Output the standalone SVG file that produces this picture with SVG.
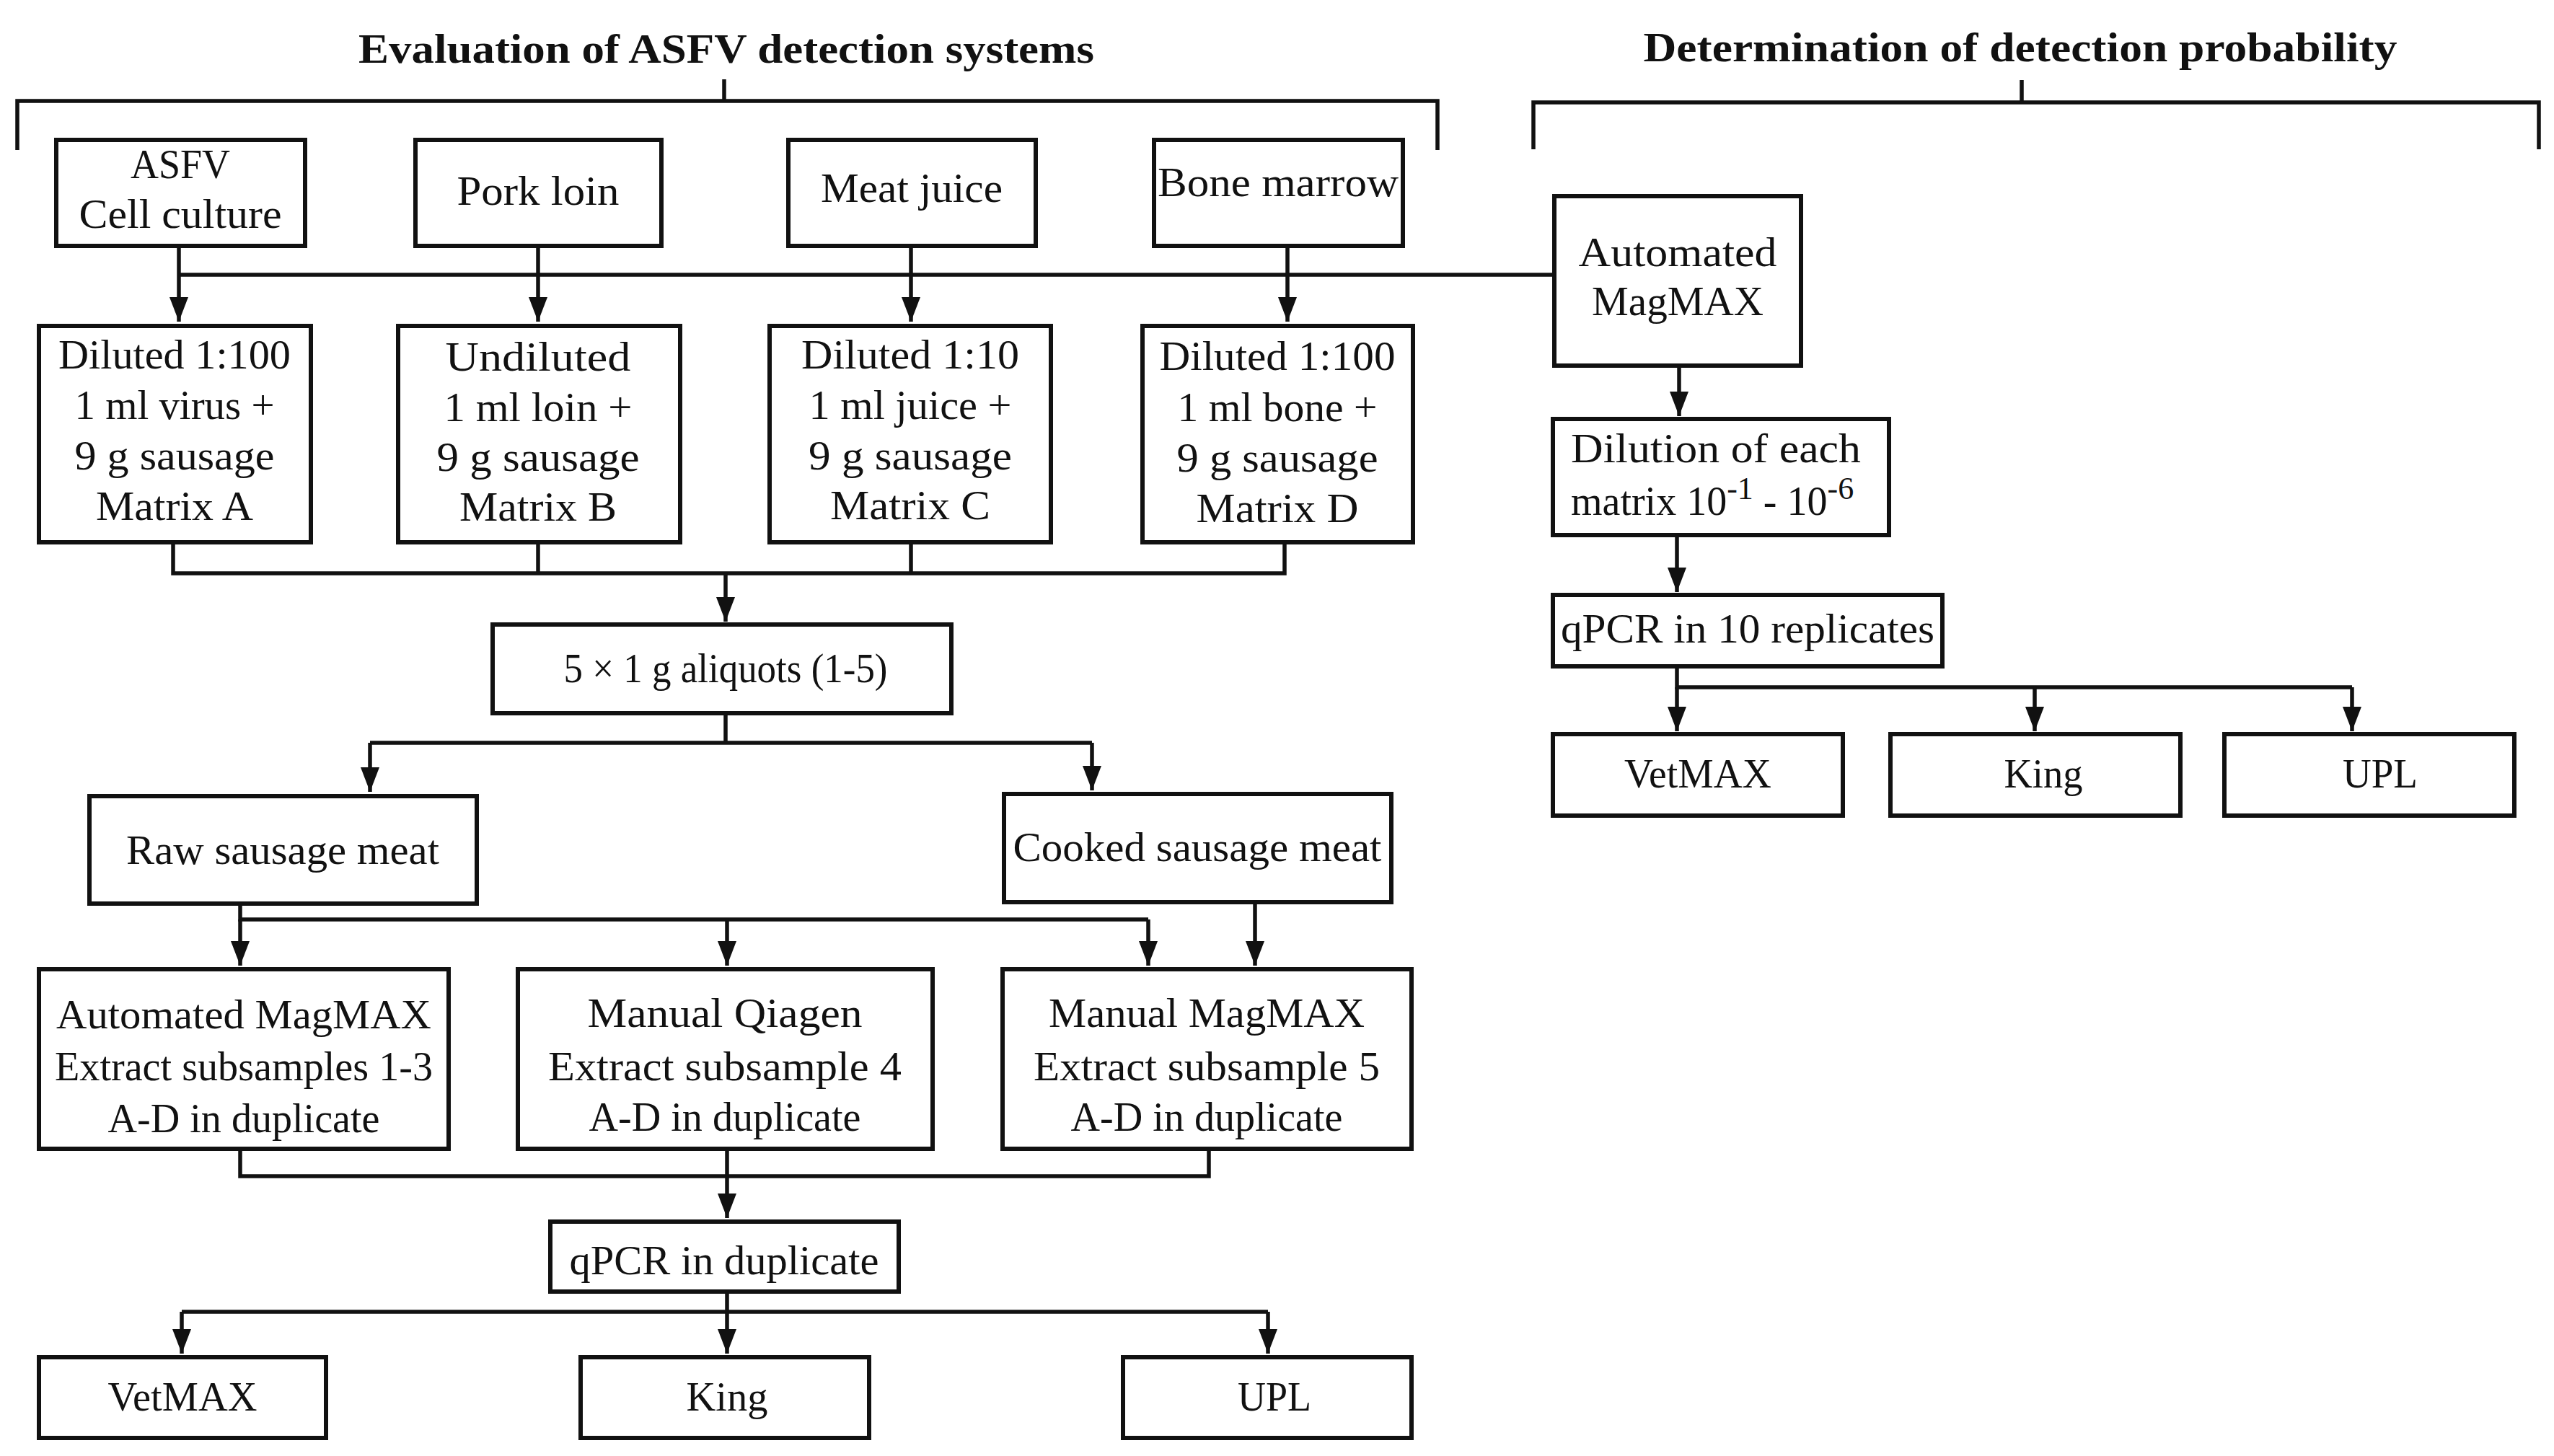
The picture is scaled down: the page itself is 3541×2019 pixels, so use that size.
<svg xmlns="http://www.w3.org/2000/svg" width="3541" height="2019" viewBox="0 0 3541 2019">
<style>
.bg{fill:#fff}
.box{fill:#fff;stroke:#111;stroke-width:6}
.ln{fill:none;stroke:#111;stroke-width:5.5}
.t{font-family:"Liberation Serif","Times New Roman",serif;font-size:56px;fill:#111;text-anchor:middle}
.tl{font-family:"Liberation Serif","Times New Roman",serif;font-size:56px;fill:#111}
.h{font-family:"Liberation Serif","Times New Roman",serif;font-size:58px;font-weight:bold;fill:#111;text-anchor:middle}
</style>
<defs>
<marker id="ah" markerUnits="userSpaceOnUse" markerWidth="36" markerHeight="28" refX="34" refY="13" orient="auto">
<path d="M0,0 L34,13 L0,26 z" fill="#111"/>
</marker>
</defs>
<rect class="bg" x="0" y="0" width="3541" height="2019"/>

<g id="headers">
<text class="h" x="1007" y="87" textLength="1020" lengthAdjust="spacingAndGlyphs">Evaluation of ASFV detection systems</text>
<text class="h" x="2801" y="85" textLength="1045" lengthAdjust="spacingAndGlyphs">Determination of detection probability</text>
<path class="ln" d="M24,208 V140 H1993 V208 M1004,110 V140"/>
<path class="ln" d="M2126,207 V142 H3520 V207 M2803,111 V142"/>
</g>

<g id="connectors">
<path class="ln" d="M248,381 H2155"/>
<path class="ln" d="M248,341 V446" marker-end="url(#ah)"/>
<path class="ln" d="M746,341 V446" marker-end="url(#ah)"/>
<path class="ln" d="M1263,341 V446" marker-end="url(#ah)"/>
<path class="ln" d="M1785,341 V446" marker-end="url(#ah)"/>
<path class="ln" d="M240,752 V795 H1781 V752 M746,752 V795 M1263,752 V795"/>
<path class="ln" d="M1006,795 V862" marker-end="url(#ah)"/>
<path class="ln" d="M1006,989 V1030 M513,1030 H1514"/>
<path class="ln" d="M513,1030 V1098" marker-end="url(#ah)"/>
<path class="ln" d="M1514,1030 V1096" marker-end="url(#ah)"/>
<path class="ln" d="M333,1253 V1275 H1592"/>
<path class="ln" d="M333,1275 V1339" marker-end="url(#ah)"/>
<path class="ln" d="M1008,1275 V1339" marker-end="url(#ah)"/>
<path class="ln" d="M1592,1275 V1339" marker-end="url(#ah)"/>
<path class="ln" d="M1740,1251 V1339" marker-end="url(#ah)"/>
<path class="ln" d="M333,1593 V1631 H1676 V1593"/>
<path class="ln" d="M1008,1593 V1689" marker-end="url(#ah)"/>
<path class="ln" d="M1008,1791 V1819 M252,1819 H1758"/>
<path class="ln" d="M252,1819 V1877" marker-end="url(#ah)"/>
<path class="ln" d="M1008,1819 V1877" marker-end="url(#ah)"/>
<path class="ln" d="M1758,1819 V1877" marker-end="url(#ah)"/>
<path class="ln" d="M2328,507 V577" marker-end="url(#ah)"/>
<path class="ln" d="M2325,742 V821" marker-end="url(#ah)"/>
<path class="ln" d="M2325,924 V953 H3261"/>
<path class="ln" d="M2325,953 V1014" marker-end="url(#ah)"/>
<path class="ln" d="M2821,953 V1014" marker-end="url(#ah)"/>
<path class="ln" d="M3261,953 V1014" marker-end="url(#ah)"/>
</g>

<g id="n_asfv"><rect class="box" x="78" y="194" width="345" height="147"/>
<text class="t" x="250" y="247" textLength="138" lengthAdjust="spacingAndGlyphs">ASFV</text>
<text class="t" x="250" y="316" textLength="281" lengthAdjust="spacingAndGlyphs">Cell culture</text></g>
<g id="n_pork"><rect class="box" x="576" y="194" width="341" height="147"/>
<text class="t" x="746" y="284" textLength="225" lengthAdjust="spacingAndGlyphs">Pork loin</text></g>
<g id="n_juice"><rect class="box" x="1093" y="194" width="343" height="147"/>
<text class="t" x="1264" y="280" textLength="252" lengthAdjust="spacingAndGlyphs">Meat juice</text></g>
<g id="n_bone"><rect class="box" x="1600" y="194" width="345" height="147"/>
<text class="t" x="1772" y="272" textLength="334" lengthAdjust="spacingAndGlyphs">Bone marrow</text></g>
<g id="n_auto_r"><rect class="box" x="2155" y="272" width="342" height="235"/>
<text class="t" x="2326" y="369" textLength="275" lengthAdjust="spacingAndGlyphs">Automated</text>
<text class="t" x="2326" y="437" textLength="238" lengthAdjust="spacingAndGlyphs">MagMAX</text></g>

<g id="n_matA"><rect class="box" x="54" y="452" width="377" height="300"/>
<text class="t" x="242" y="511" textLength="322" lengthAdjust="spacingAndGlyphs">Diluted 1:100</text>
<text class="t" x="242" y="581" textLength="277" lengthAdjust="spacingAndGlyphs">1 ml virus +</text>
<text class="t" x="242" y="651" textLength="277" lengthAdjust="spacingAndGlyphs">9 g sausage</text>
<text class="t" x="242" y="721" textLength="218" lengthAdjust="spacingAndGlyphs">Matrix A</text></g>
<g id="n_matB"><rect class="box" x="552" y="452" width="391" height="300"/>
<text class="t" x="746" y="514" textLength="257" lengthAdjust="spacingAndGlyphs">Undiluted</text>
<text class="t" x="746" y="584" textLength="261" lengthAdjust="spacingAndGlyphs">1 ml loin +</text>
<text class="t" x="746" y="653" textLength="281" lengthAdjust="spacingAndGlyphs">9 g sausage</text>
<text class="t" x="746" y="722" textLength="218" lengthAdjust="spacingAndGlyphs">Matrix B</text></g>
<g id="n_matC"><rect class="box" x="1067" y="452" width="390" height="300"/>
<text class="t" x="1262" y="511" textLength="302" lengthAdjust="spacingAndGlyphs">Diluted 1:10</text>
<text class="t" x="1262" y="581" textLength="281" lengthAdjust="spacingAndGlyphs">1 ml juice +</text>
<text class="t" x="1262" y="651" textLength="282" lengthAdjust="spacingAndGlyphs">9 g sausage</text>
<text class="t" x="1262" y="720" textLength="222" lengthAdjust="spacingAndGlyphs">Matrix C</text></g>
<g id="n_matD"><rect class="box" x="1584" y="452" width="375" height="300"/>
<text class="t" x="1771" y="513" textLength="327" lengthAdjust="spacingAndGlyphs">Diluted 1:100</text>
<text class="t" x="1771" y="584" textLength="277" lengthAdjust="spacingAndGlyphs">1 ml bone +</text>
<text class="t" x="1771" y="654" textLength="279" lengthAdjust="spacingAndGlyphs">9 g sausage</text>
<text class="t" x="1771" y="724" textLength="225" lengthAdjust="spacingAndGlyphs">Matrix D</text></g>

<g id="n_aliquots"><rect class="box" x="683" y="866" width="636" height="123"/>
<text class="t" x="1006" y="946" textLength="449" lengthAdjust="spacingAndGlyphs">5 × 1 g aliquots (1-5)</text></g>
<g id="n_raw"><rect class="box" x="124" y="1104" width="537" height="149"/>
<text class="t" x="392" y="1198" textLength="434" lengthAdjust="spacingAndGlyphs">Raw sausage meat</text></g>
<g id="n_cooked"><rect class="box" x="1392" y="1101" width="537" height="150"/>
<text class="t" x="1660" y="1194" textLength="511" lengthAdjust="spacingAndGlyphs">Cooked sausage meat</text></g>

<g id="n_extA"><rect class="box" x="54" y="1344" width="568" height="249"/>
<text class="t" x="338" y="1426" textLength="520" lengthAdjust="spacingAndGlyphs">Automated MagMAX</text>
<text class="t" x="338" y="1498" textLength="524" lengthAdjust="spacingAndGlyphs">Extract subsamples 1-3</text>
<text class="t" x="338" y="1570" textLength="377" lengthAdjust="spacingAndGlyphs">A-D in duplicate</text></g>
<g id="n_extB"><rect class="box" x="718" y="1344" width="575" height="249"/>
<text class="t" x="1005" y="1424" textLength="381" lengthAdjust="spacingAndGlyphs">Manual Qiagen</text>
<text class="t" x="1005" y="1498" textLength="490" lengthAdjust="spacingAndGlyphs">Extract subsample 4</text>
<text class="t" x="1005" y="1568" textLength="377" lengthAdjust="spacingAndGlyphs">A-D in duplicate</text></g>
<g id="n_extC"><rect class="box" x="1390" y="1344" width="567" height="249"/>
<text class="t" x="1673" y="1424" textLength="438" lengthAdjust="spacingAndGlyphs">Manual MagMAX</text>
<text class="t" x="1673" y="1498" textLength="480" lengthAdjust="spacingAndGlyphs">Extract subsample 5</text>
<text class="t" x="1673" y="1568" textLength="377" lengthAdjust="spacingAndGlyphs">A-D in duplicate</text></g>

<g id="n_qpcr"><rect class="box" x="763" y="1694" width="483" height="97"/>
<text class="t" x="1004" y="1767" textLength="429" lengthAdjust="spacingAndGlyphs">qPCR in duplicate</text></g>
<g id="n_vet"><rect class="box" x="54" y="1882" width="398" height="112"/>
<text class="t" x="253" y="1956" textLength="207" lengthAdjust="spacingAndGlyphs">VetMAX</text></g>
<g id="n_king"><rect class="box" x="805" y="1882" width="400" height="112"/>
<text class="t" x="1008" y="1956" textLength="113" lengthAdjust="spacingAndGlyphs">King</text></g>
<g id="n_upl"><rect class="box" x="1557" y="1882" width="400" height="112"/>
<text class="t" x="1767" y="1956" textLength="102" lengthAdjust="spacingAndGlyphs">UPL</text></g>

<g id="n_dilution"><rect class="box" x="2153" y="581" width="466" height="161"/>
<text class="tl" x="2178" y="641" textLength="402" lengthAdjust="spacingAndGlyphs">Dilution of each</text>
<text class="tl" x="2178" y="714">matrix 10<tspan font-size="44" dy="-22">-1</tspan><tspan dy="22"> - 10</tspan><tspan font-size="44" dy="-22">-6</tspan></text></g>
<g id="n_q10"><rect class="box" x="2153" y="825" width="540" height="99"/>
<text class="t" x="2423" y="891" textLength="518" lengthAdjust="spacingAndGlyphs">qPCR in 10 replicates</text></g>
<g id="n_vet_r"><rect class="box" x="2153" y="1018" width="402" height="113"/>
<text class="t" x="2354" y="1092" textLength="204" lengthAdjust="spacingAndGlyphs">VetMAX</text></g>
<g id="n_king_r"><rect class="box" x="2621" y="1018" width="402" height="113"/>
<text class="t" x="2833" y="1092" textLength="109" lengthAdjust="spacingAndGlyphs">King</text></g>
<g id="n_upl_r"><rect class="box" x="3084" y="1018" width="402" height="113"/>
<text class="t" x="3300" y="1092" textLength="104" lengthAdjust="spacingAndGlyphs">UPL</text></g>
</svg>
